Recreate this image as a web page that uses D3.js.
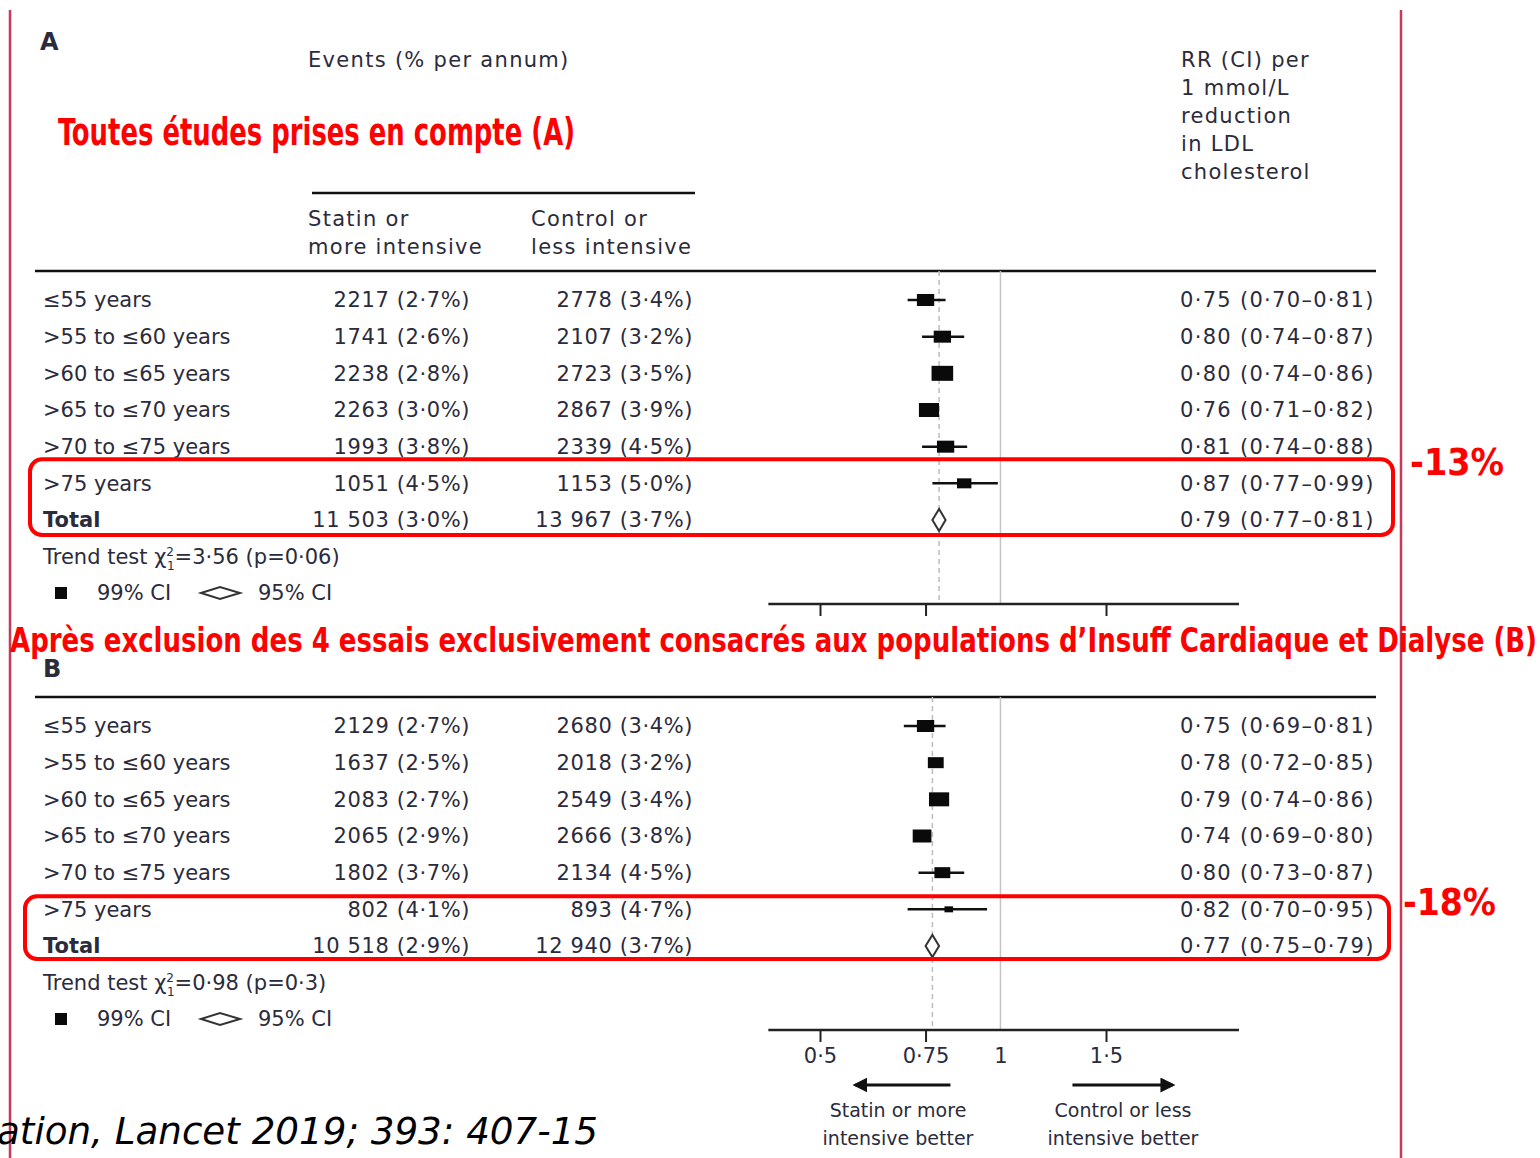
<!DOCTYPE html>
<html>
<head>
<meta charset="utf-8">
<script src="https://cdn.jsdelivr.net/npm/d3@7"></script>
<style>
body{margin:0;background:#fff;}
svg{display:block;}
.txt{font-family:"DejaVu Sans",sans-serif;font-size:21px;fill:#2b2b3b;}
.wide{letter-spacing:1.3px;}
.mid{letter-spacing:0.6px;}
.small{font-size:19px;}
.red{font-family:"DejaVu Sans Condensed","DejaVu Sans",sans-serif;font-weight:bold;fill:#ff0000;}
</style>
</head>
<body>
<div id="chart"></div>
<script>
// categories
var ageGroups=["≤55 years",">55 to ≤60 years",">60 to ≤65 years",">65 to ≤70 years",">70 to ≤75 years",">75 years","Total"];

// panel A : all trials
var statinEventsA=[2217,1741,2238,2263,1993,1051,11503];
var statinPctA=[2.7,2.6,2.8,3.0,3.8,4.5,3.0];
var controlEventsA=[2778,2107,2723,2867,2339,1153,13967];
var controlPctA=[3.4,3.2,3.5,3.9,4.5,5.0,3.7];
var rrA=[0.75,0.80,0.80,0.76,0.81,0.87,0.79];
var loA=[0.70,0.74,0.74,0.71,0.74,0.77,0.77];
var hiA=[0.81,0.87,0.86,0.82,0.88,0.99,0.81];
var whiskerA=[1,1,0,0,1,1,0];
var boxA=[12,12,15,14,12,10,22];
var trendA={chi:3.56,p:0.06};

// panel B : excluding heart failure & dialysis trials
var statinEventsB=[2129,1637,2083,2065,1802,802,10518];
var statinPctB=[2.7,2.5,2.7,2.9,3.7,4.1,2.9];
var controlEventsB=[2680,2018,2549,2666,2134,893,12940];
var controlPctB=[3.4,3.2,3.4,3.8,4.5,4.7,3.7];
var rrB=[0.75,0.78,0.79,0.74,0.80,0.82,0.77];
var loB=[0.69,0.72,0.74,0.69,0.73,0.70,0.75];
var hiB=[0.81,0.85,0.86,0.80,0.87,0.95,0.79];
var whiskerB=[1,0,0,0,1,1,0];
var boxB=[12,11,14,13,11,6,22];
var trendB={chi:0.98,p:0.3};

var axisTicks=[0.5,0.75,1,1.5];
var axisExtent=[0.41,2.5];
var reductions=["-13%","-18%"];

var W=1540,H=1158;
var loc=d3.formatLocale({decimal:"·",thousands:" ",grouping:[3],currency:["",""]});
var fmtEv=function(n){return n>=10000?loc.format(",")(n):String(n);};
var fmt1=loc.format(".1f"),fmt2=loc.format(".2f");

var svg=d3.select("#chart").append("svg").attr("width",W).attr("height",H);
var x=d3.scaleLog().domain([0.5,1.5]).range([820,1106]);

//***************************
//BORDERS
//***************************
svg.append("line").attr("x1",10).attr("x2",10).attr("y1",10).attr("y2",H)
	.attr("stroke","#c8385a").attr("stroke-width",2.5);
svg.append("line").attr("x1",1401).attr("x2",1401).attr("y1",10).attr("y2",H)
	.attr("stroke","#c8385a").attr("stroke-width",2.5);

//***************************
//HEADER (panel A only)
//***************************
var hd=svg.append("g").attr("class","txt wide");
hd.append("text").attr("x",40).attr("y",50).style("font-size","24px").style("font-weight","bold").text("A");
hd.append("text").attr("x",308).attr("y",67).text("Events (% per annum)");
svg.append("line").attr("x1",312).attr("x2",695).attr("y1",193).attr("y2",193).attr("stroke","#111").attr("stroke-width",2.5);
hd.append("text").attr("x",308).attr("y",226).text("Statin or");
hd.append("text").attr("x",308).attr("y",254).text("more intensive");
hd.append("text").attr("x",531).attr("y",226).text("Control or");
hd.append("text").attr("x",531).attr("y",254).text("less intensive");
hd.selectAll(".rrhead")
	.data(["RR (CI) per","1 mmol/L","reduction","in LDL","cholesterol"])
	.enter().append("text")
	.attr("class","rrhead")
	.attr("x",1181)
	.attr("y",function(d,i){return 67+i*28;})
	.text(function(d){return d;});

//***************************
//PANELS
//***************************
function drawPanel(top,P){
	var g=svg.append("g");
	var y=d3.scalePoint().domain(ageGroups).range([top+29,top+249]);
	var last=y("Total");
	var axisY=last+84;

	g.append("line").attr("x1",35).attr("x2",1376).attr("y1",top).attr("y2",top)
		.attr("stroke","#111").attr("stroke-width",2.5);

	// reference lines
	g.append("line").attr("x1",x(1)).attr("x2",x(1)).attr("y1",top).attr("y2",axisY)
		.attr("stroke","#c4c4c8").attr("stroke-width",1.5);
	g.append("line").attr("x1",x(P.rr[6])).attr("x2",x(P.rr[6])).attr("y1",top).attr("y2",axisY)
		.attr("stroke","#b8bcc4").attr("stroke-width",1.5).attr("stroke-dasharray","5,4");

	var t=g.append("g").attr("class","txt");
	t.selectAll(".lbl").data(ageGroups).enter().append("text")
		.attr("x",43).attr("y",function(d){return y(d);}).attr("dy","0.35em")
		.style("font-weight",function(d,i){return i==6?"bold":null;})
		.text(function(d){return d;});
	t.selectAll(".st").data(ageGroups).enter().append("text")
		.attr("class","mid")
		.attr("x",470).attr("y",function(d){return y(d);}).attr("dy","0.35em")
		.attr("text-anchor","end")
		.text(function(d,i){return fmtEv(P.se[i])+" ("+fmt1(P.sp[i])+"%)";});
	t.selectAll(".ct").data(ageGroups).enter().append("text")
		.attr("class","mid")
		.attr("x",693).attr("y",function(d){return y(d);}).attr("dy","0.35em")
		.attr("text-anchor","end")
		.text(function(d,i){return fmtEv(P.ce[i])+" ("+fmt1(P.cp[i])+"%)";});
	t.selectAll(".rr").data(ageGroups).enter().append("text")
		.attr("class","wide")
		.attr("x",1180).attr("y",function(d){return y(d);}).attr("dy","0.35em")
		.text(function(d,i){return fmt2(P.rr[i])+" ("+fmt2(P.lo[i])+"–"+fmt2(P.hi[i])+")";});

	// whiskers
	var idx=d3.range(6);
	g.selectAll(".wh").data(idx.filter(function(i){return P.wh[i];})).enter().append("line")
		.attr("x1",function(i){return x(P.lo[i]);})
		.attr("x2",function(i){return x(P.hi[i]);})
		.attr("y1",function(i){return y(ageGroups[i]);})
		.attr("y2",function(i){return y(ageGroups[i]);})
		.attr("stroke","#111").attr("stroke-width",2.5);
	// boxes
	g.selectAll(".bx").data(idx).enter().append("rect")
		.attr("x",function(i){return x(P.rr[i])-P.box[i]*0.72;})
		.attr("y",function(i){return y(ageGroups[i])-P.box[i]/2;})
		.attr("width",function(i){return P.box[i]*1.44;})
		.attr("height",function(i){return P.box[i];})
		.attr("fill","#0a0a0a");
	// total diamond
	var ty=last,h=P.box[6]/2;
	g.append("path")
		.attr("d","M"+x(P.lo[6])+","+ty+"L"+x(P.rr[6])+","+(ty-h)+"L"+x(P.hi[6])+","+ty+"L"+x(P.rr[6])+","+(ty+h)+"Z")
		.attr("fill","#fff").attr("stroke","#333").attr("stroke-width",2);

	// trend test
	var tr=t.append("text").attr("x",43).attr("y",last+37).attr("dy","0.35em");
	tr.append("tspan").text("Trend test χ");
	tr.append("tspan").style("font-size","12px").attr("dy",-8).text("2");
	tr.append("tspan").style("font-size","12px").attr("dx",-7).attr("dy",14).text("1");
	tr.append("tspan").attr("dy",-6).text("="+fmt2(P.trend.chi)+" (p="+(P.trend.p<0.1?fmt2(P.trend.p):fmt1(P.trend.p))+")");

	// legend
	var ly=last+73;
	g.append("rect").attr("x",55).attr("y",ly-6).attr("width",12).attr("height",12).attr("fill","#0a0a0a");
	t.append("text").attr("x",97).attr("y",ly).attr("dy","0.35em").text("99% CI");
	g.append("path").attr("d","M201,"+ly+"L220,"+(ly-6)+"L240,"+ly+"L220,"+(ly+6)+"Z")
		.attr("fill","#fff").attr("stroke","#333").attr("stroke-width",2);
	t.append("text").attr("x",258).attr("y",ly).attr("dy","0.35em").text("95% CI");

	// axis
	g.append("line").attr("x1",x(axisExtent[0])).attr("x2",x(axisExtent[1]))
		.attr("y1",axisY).attr("y2",axisY).attr("stroke","#222").attr("stroke-width",2.5);
	var ax=d3.axisBottom(x).tickValues(axisTicks).tickSize(12).tickPadding(6)
		.tickFormat(P.labels?function(d){return loc.format("")(d);}:"");
	var ag=g.append("g").attr("transform","translate(0,"+axisY+")").call(ax);
	ag.select(".domain").remove();
	ag.selectAll(".tick line").attr("stroke","#222").attr("stroke-width",2)
		.attr("opacity",function(d){return d==1?0:1;});
	ag.selectAll(".tick text").attr("class","txt").style("font-size","21px").attr("fill","#2b2b3b");

	// red highlight box round >75 and Total
	g.append("rect")
		.attr("x",P.hl[0]).attr("y",y(ageGroups[5])-P.hl[1])
		.attr("width",P.hl[2]).attr("height",last-y(ageGroups[5])+P.hl[1]+P.hl[3])
		.attr("rx",12).attr("fill","none").attr("stroke","#ff0000").attr("stroke-width",4);
	return axisY;
}

drawPanel(271,{se:statinEventsA,sp:statinPctA,ce:controlEventsA,cp:controlPctA,rr:rrA,lo:loA,hi:hiA,wh:whiskerA,box:boxA,trend:trendA,labels:false,hl:[30,24,1363,15]});
svg.append("text").attr("class","txt").attr("x",43).attr("y",677).style("font-size","24px").style("font-weight","bold").text("B");
var axisB=drawPanel(697,{se:statinEventsB,sp:statinPctB,ce:controlEventsB,cp:controlPctB,rr:rrB,lo:loB,hi:hiB,wh:whiskerB,box:boxB,trend:trendB,labels:true,hl:[25,13,1364,13]});

//***************************
//DIRECTION ARROWS
//***************************
svg.append("defs").append("marker").attr("id","ah").attr("viewBox","0 0 10 10")
	.attr("refX",8).attr("refY",5).attr("markerWidth",5).attr("markerHeight",5).attr("orient","auto")
	.append("path").attr("d","M0,0L10,5L0,10Z").attr("fill","#111");
var arY=axisB+55;
svg.append("line").attr("x1",x(1)-50).attr("x2",x(1)-145).attr("y1",arY).attr("y2",arY)
	.attr("stroke","#111").attr("stroke-width",3).attr("marker-end","url(#ah)");
svg.append("line").attr("x1",x(1)+72).attr("x2",x(1)+172).attr("y1",arY).attr("y2",arY)
	.attr("stroke","#111").attr("stroke-width",3).attr("marker-end","url(#ah)");
var dir=svg.append("g").attr("class","txt small").attr("text-anchor","middle");
dir.append("text").attr("x",898).attr("y",arY+32).text("Statin or more");
dir.append("text").attr("x",898).attr("y",arY+60).text("intensive better");
dir.append("text").attr("x",1123).attr("y",arY+32).text("Control or less");
dir.append("text").attr("x",1123).attr("y",arY+60).text("intensive better");

//***************************
//RED ANNOTATIONS
//***************************
svg.append("text").attr("class","red").attr("x",58).attr("y",145).style("font-size","37px")
	.attr("textLength",517).attr("lengthAdjust","spacingAndGlyphs")
	.text("Toutes études prises en compte (A)");
svg.append("text").attr("class","red").attr("x",10).attr("y",652).style("font-size","34px")
	.attr("textLength",1527).attr("lengthAdjust","spacingAndGlyphs")
	.text("Après exclusion des 4 essais exclusivement consacrés aux populations d’Insuff Cardiaque et Dialyse (B)");
svg.append("text").attr("class","red").attr("x",1410).attr("y",475).style("font-size","38px")
	.attr("textLength",94).attr("lengthAdjust","spacingAndGlyphs").text(reductions[0]);
svg.append("text").attr("class","red").attr("x",1403).attr("y",915).style("font-size","38px")
	.attr("textLength",93).attr("lengthAdjust","spacingAndGlyphs").text(reductions[1]);

// source
svg.append("text").attr("x",-3).attr("y",1144)
	.style("font-family","'DejaVu Sans Condensed','DejaVu Sans',sans-serif").style("font-style","italic")
	.style("font-size","38px").attr("fill","#000")
	.attr("textLength",601).attr("lengthAdjust","spacingAndGlyphs")
	.text("ation, Lancet 2019; 393: 407-15");
</script>
</body>
</html>
